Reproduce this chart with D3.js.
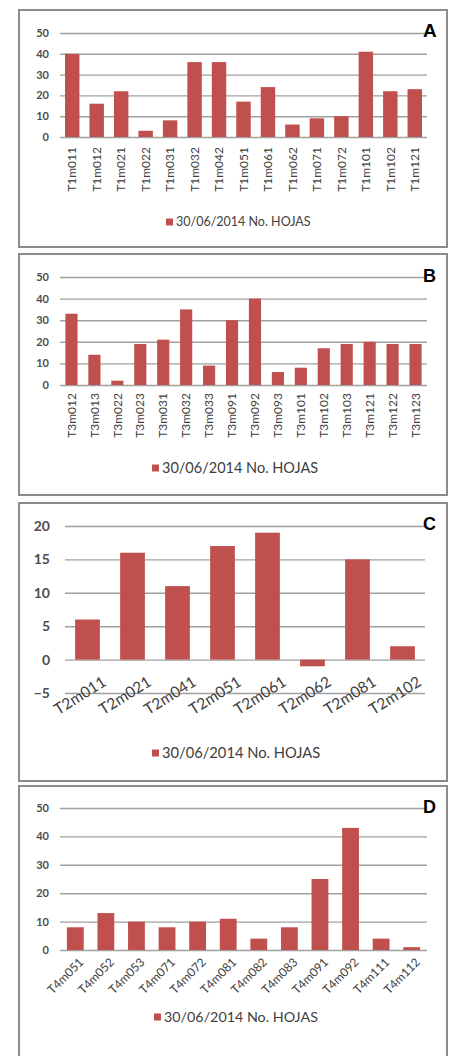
<!DOCTYPE html>
<html>
<head>
<meta charset="utf-8">
<script src="https://cdn.jsdelivr.net/npm/d3@7"></script>
<style>
  body { margin: 0; background: #fff; }
  text { font-family: Lato, "Open Sans", sans-serif; fill: #404040; }
</style>
</head>
<body>
<div id="chart"></div>
<script>
  var legendLabel = "30/06/2014 No. HOJAS";

  var catsA = ["T1m011","T1m012","T1m021","T1m022","T1m031","T1m032","T1m042","T1m051",
               "T1m061","T1m062","T1m071","T1m072","T1m101","T1m102","T1m121"];
  var valsA = [40, 16, 22, 3, 8, 36, 36, 17, 24, 6, 9, 10, 41, 22, 23];

  var catsB = ["T3m012","T3m013","T3m022","T3m023","T3m031","T3m032","T3m033","T3m091",
               "T3m092","T3m093","T3m101","T3m102","T3m103","T3m121","T3m122","T3m123"];
  var valsB = [33, 14, 2, 19, 21, 35, 9, 30, 40, 6, 8, 17, 19, 20, 19, 19];

  var catsC = ["T2m011","T2m021","T2m041","T2m051","T2m061","T2m062","T2m081","T2m102"];
  var valsC = [6, 16, 11, 17, 19, -1, 15, 2];

  var catsD = ["T4m051","T4m052","T4m053","T4m071","T4m072","T4m081","T4m082","T4m083",
               "T4m091","T4m092","T4m111","T4m112"];
  var valsD = [8, 13, 10, 8, 10, 11, 4, 8, 25, 43, 4, 1];

  var ticks50 = [0, 10, 20, 30, 40, 50];
  var ticksC = [-5, 0, 5, 10, 15, 20];

  var barColor = "#c0504d";

  var svg = d3.select("#chart").append("svg")
      .attr("width", 452)
      .attr("height", 1056);

  ////// panel layouts /////////////
  var panels = [
    { letter: "A", cats: catsA, vals: valsA, ticks: ticks50,
      box: [19, 10, 428, 237], x0: 60, x1: 427, yTop: 33, yBottom: 137, pad: 0.41,
      yFont: 11, tickPad: 11, xFont: 12, rot: -90, lx: 0, ly: 10,
      legY: 222, legX: 166, legFont: 12.5, letterY: 37, letterSize: 19 },
    { letter: "B", cats: catsB, vals: valsB, ticks: ticks50,
      box: [19, 254, 428, 241], x0: 60, x1: 427, yTop: 277, yBottom: 385, pad: 0.47,
      yFont: 11, tickPad: 11, xFont: 12, rot: -90, lx: 0, ly: 8,
      legY: 468, legX: 152, legFont: 14.5, letterY: 282, letterSize: 18 },
    { letter: "C", cats: catsC, vals: valsC, ticks: ticksC,
      box: [19, 503, 428, 278], x0: 65, x1: 425, yTop: 526, yBottom: 693, pad: 0.45,
      yFont: 14, tickPad: 15, xFont: 15.5, rot: -32, lx: 17, ly: 680,
      legY: 753, legX: 152, legFont: 14.7, letterY: 530, letterSize: 18 },
    { letter: "D", cats: catsD, vals: valsD, ticks: ticks50,
      box: [19, 786, 428, 290], x0: 60, x1: 427, yTop: 808, yBottom: 950, pad: 0.45,
      yFont: 11, tickPad: 11, xFont: 12, rot: -45, lx: 6, ly: 960,
      legY: 1017, legX: 154, legFont: 14.3, letterY: 813, letterSize: 18 }
  ];

  panels.forEach(drawPanel);

  function drawPanel(p) {
    var g = svg.append("g");

    g.append("rect")
        .attr("x", p.box[0])
        .attr("y", p.box[1])
        .attr("width", p.box[2])
        .attr("height", p.box[3])
        .attr("fill", "#fff")
        .attr("stroke", "#8c8c8c")
        .attr("stroke-width", 2);

    var yScale = d3.scaleLinear()
        .domain([d3.min(p.ticks), d3.max(p.ticks)])
        .range([p.yBottom, p.yTop]);

    var xScale = d3.scaleBand()
        .domain(p.cats)
        .range([p.x0, p.x1])
        .paddingInner(p.pad)
        .paddingOuter(p.pad / 2);

    // gridlines + y labels
    var yAxis = d3.axisLeft(yScale)
        .tickValues(p.ticks)
        .tickSizeInner(-(p.x1 - p.x0))
        .tickSizeOuter(0)
        .tickPadding(p.tickPad);

    var ya = g.append("g")
        .attr("transform", "translate(" + p.x0 + ",0)")
        .call(yAxis);
    ya.select(".domain").remove();
    ya.selectAll("line").attr("stroke", "#a0a0a0").attr("stroke-width", 1.4);
    ya.selectAll("text")
        .style("font-size", p.yFont + "px")
        .style("font-weight", 700)
        .style("fill", "#4d4d4d");

    // bars
    g.append("g")
        .selectAll("rect")
        .data(p.vals)
        .enter()
        .append("rect")
        .attr("x", function(d, i) { return xScale(p.cats[i]); })
        .attr("width", xScale.bandwidth())
        .attr("y", function(d) { return yScale(Math.max(d, 0)); })
        .attr("height", function(d) { return Math.abs(yScale(d) - yScale(0)); })
        .attr("fill", barColor);

    // category labels
    var xAxis = d3.axisBottom(xScale).tickSize(0);
    var xa = g.append("g")
        .attr("transform", "translate(0," + (p.rot == -90 ? yScale(0) : 0) + ")")
        .call(xAxis);
    xa.select(".domain").remove();
    xa.selectAll(".tick").attr("transform", null);
    xa.selectAll("text")
        .style("font-size", p.xFont + "px")
        .attr("text-anchor", "end")
        .attr("x", 0)
        .attr("y", 0)
        .attr("dy", "0.35em")
        .attr("transform", function(d) {
          var cx = xScale(d) + xScale.bandwidth() / 2;
          return "translate(" + (cx + p.lx) + "," + p.ly + ") rotate(" + p.rot + ")";
        });

    // legend
    g.append("rect")
        .attr("x", p.legX)
        .attr("y", p.legY - 3.5)
        .attr("width", 7)
        .attr("height", 7)
        .attr("fill", barColor);
    g.append("text")
        .attr("x", p.legX + 10)
        .attr("y", p.legY)
        .attr("dy", "0.35em")
        .style("font-size", p.legFont + "px")
        .text(legendLabel);

    // panel letter
    g.append("text")
        .attr("x", 423)
        .attr("y", p.letterY)
        .style("font-family", "'Liberation Sans', Arial, sans-serif")
        .style("font-weight", 700)
        .style("font-size", p.letterSize + "px")
        .style("fill", "#000")
        .text(p.letter);
  }
</script>
</body>
</html>
